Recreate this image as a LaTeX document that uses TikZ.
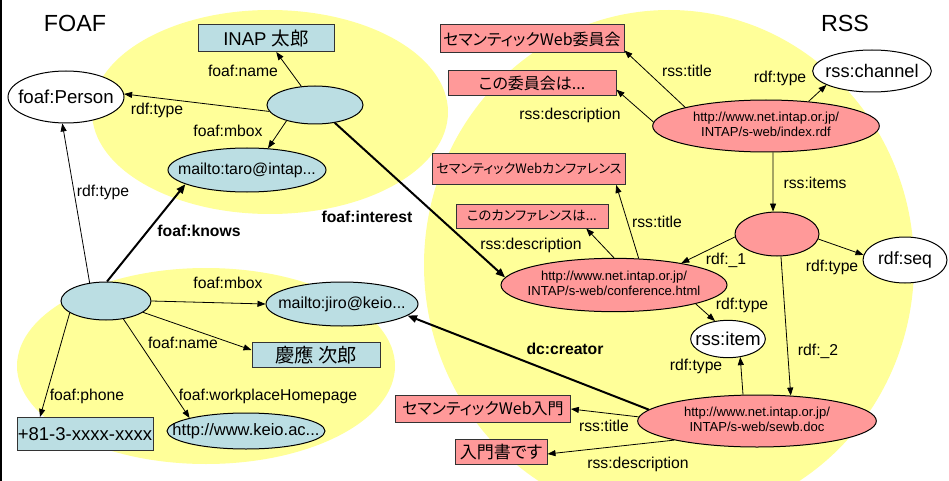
\documentclass[tikz,border=0pt]{standalone}
\usepackage{fontspec}
\setmainfont{Liberation Sans}
\newfontfamily\jp[RawFeature=+palt]{Noto Sans CJK JP}
\usetikzlibrary{shapes.geometric,arrows.meta}
\definecolor{ybg}{HTML}{FFFF99}
\definecolor{lblue}{HTML}{BBDEE3}
\definecolor{lpink}{HTML}{FF9999}
\definecolor{bdr}{HTML}{333333}
\newcommand\zw[1]{\makebox[0pt]{#1}}
\begin{document}
\begin{tikzpicture}[x=0.75pt,y=-0.75pt,
  ell/.style={ellipse, draw=black, line width=0.75pt, inner sep=0pt},
  bnode/.style={ell, fill=lblue},
  pnode/.style={ell, fill=lpink, font=\fontsize{9.8}{11.3}\selectfont},
  wnode/.style={ell, fill=white},
  bbox/.style={rectangle, draw=bdr, line width=0.75pt, fill=lblue, inner sep=0pt},
  pbox/.style={rectangle, draw=bdr, line width=0.75pt, fill=lpink, inner sep=0pt},
  lbl/.style={inner sep=0pt, font=\fontsize{11.8}{14}\selectfont},
  blbl/.style={inner sep=0pt, font=\fontsize{11.8}{14}\selectfont\bfseries},
  arr/.style={-{Triangle[length=6pt,width=4.5pt]}, line width=0.6pt},
  barr/.style={-{Triangle[length=7pt,width=5.5pt]}, line width=1.5pt},
  ttl/.style={font=\fontsize{17.5}{20}\selectfont, inner sep=0pt}]
\useasboundingbox (0,0) rectangle (949,481);
\fill[white] (0,0) rectangle (949,481);
% background groups
\fill[ybg] (270,112) ellipse [x radius=133.5pt, y radius=76.5pt];
\fill[ybg] (206,366) ellipse [x radius=141.75pt, y radius=73.5pt];
\fill[ybg] (669,265) ellipse [x radius=183.75pt, y radius=191.25pt];
\draw[line width=1.2pt] (0.8,0) -- (0.8,481);
% titles
\node[ttl] (tfoaf) at (75,23) {FOAF};
\node[ttl] (trss) at (845,23) {RSS};
% FOAF nodes
\node[bbox, minimum width=102pt, minimum height=20.25pt, font=\fontsize{13.9}{16}\selectfont] (inap) at (266,38) {INAP {\jp 太郎}};
\node[wnode, minimum width=87pt, minimum height=39pt, font=\fontsize{14}{16}\selectfont] (person) at (66,97) {\zw{foaf:Person}};
\node[bnode, minimum width=72pt, minimum height=28.5pt] (taro) at (315,105) {};
\node[bnode, minimum width=118.5pt, minimum height=33pt, font=\fontsize{11.9}{14}\selectfont] (mtaro) at (247,170) {\zw{mailto:taro@intap...}};
\node[bnode, minimum width=67.5pt, minimum height=28.5pt] (jiro) at (106,301) {};
\node[bnode, minimum width=114pt, minimum height=33pt, font=\fontsize{12}{14}\selectfont] (mjiro) at (342,304) {\zw{mailto:jiro@keio...}};
\node[bbox, minimum width=96pt, minimum height=18.75pt, font=\fontsize{14.5}{16}\selectfont] (keio) at (316,355) {{\jp 慶應 次郎}};
\node[bbox, minimum width=102pt, minimum height=24.75pt, font=\fontsize{13.9}{16}\selectfont] (phone) at (85,434) {+81-3-xxxx-xxxx};
\node[bnode, minimum width=118.5pt, minimum height=27pt, font=\fontsize{12.4}{14}\selectfont] (keioac) at (246,431) {\zw{http://www.keio.ac...}};
% RSS nodes
\node[pbox, minimum width=138pt, minimum height=21pt, font=\fontsize{12}{14}\selectfont] (iinkai) at (532,39) {\jp セマンティックWeb委員会};
\node[pbox, minimum width=126pt, minimum height=18.75pt, font=\fontsize{12}{14}\selectfont] (konoiin) at (532,83) {\jp この委員会は...};
\node[wnode, minimum width=89pt, minimum height=31.5pt, font=\fontsize{13.7}{16}\selectfont] (channel) at (872,71) {\zw{rss:channel}};
\node[pnode, minimum width=170pt, minimum height=39pt] (index) at (766,126) {\zw{\begin{tabular}{@{}c@{}}http://www.net.intap.or.jp/\\INTAP/s-web/index.rdf\end{tabular}}};
\node[pnode, minimum width=63pt, minimum height=33pt] (seq) at (777,234) {};
\node[wnode, minimum width=63pt, minimum height=34.5pt, font=\fontsize{13.2}{16}\selectfont] (rdfseq) at (905,260) {\zw{rdf:seq}};
\node[pbox, minimum width=145pt, minimum height=23.25pt, font=\fontsize{9.8}{12}\selectfont] (kanfa) at (529,169) {\jp セマンティックWebカンファレンス};
\node[pbox, minimum width=114pt, minimum height=18pt, font=\fontsize{10}{12}\selectfont] (konokanfa) at (532,216) {\jp このカンファレンスは...};
\node[pnode, minimum width=169.5pt, minimum height=40pt] (conf) at (614,285) {\zw{\begin{tabular}{@{}c@{}}http://www.net.intap.or.jp/\\INTAP/s-web/conference.html\end{tabular}}};
\node[wnode, minimum width=56pt, minimum height=28pt, font=\fontsize{14}{16}\selectfont] (item) at (728,339) {\zw{rss:item}};
\node[pnode, minimum width=179pt, minimum height=39pt] (sewb) at (757,421) {\zw{\begin{tabular}{@{}c@{}}http://www.net.intap.or.jp/\\INTAP/s-web/sewb.doc\end{tabular}}};
\node[pbox, minimum width=131pt, minimum height=20.25pt, font=\fontsize{12}{14}\selectfont] (nyumon) at (483,409) {\jp セマンティックWeb入門};
\node[pbox, minimum width=69pt, minimum height=18.75pt, font=\fontsize{12.8}{14}\selectfont] (nyu2) at (501,452) {\jp 入門書です};
% labels
\node[lbl] (l1) at (243,71) {foaf:name};
\node[lbl] (l2) at (157,110) {rdf:type};
\node[lbl] (l3) at (228,131) {foaf:mbox};
\node[lbl] (l4) at (103,192) {rdf:type};
\node[blbl] (l5) at (199,231) {foaf:knows};
\node[blbl] (l6) at (367,217) {foaf:interest};
\node[lbl] (l7) at (228,283) {foaf:mbox};
\node[lbl] (l8) at (183,343) {foaf:name};
\node[lbl] (l9) at (87,396) {foaf:phone};
\node[lbl] (l10) at (268,396) {foaf:workplaceHomepage};
\node[lbl] (r1) at (687,71) {rss:title};
\node[lbl] (r2) at (780,78) {rdf:type};
\node[lbl] (r3) at (570,115) {rss:description};
\node[lbl] (r4) at (815,183) {rss:items};
\node[lbl] (r5) at (657,222) {rss:title};
\node[lbl] (r6) at (531,245) {rss:description};
\node[lbl] (r7) at (726,260) {rdf:\_1};
\node[lbl] (r8) at (832,267) {rdf:type};
\node[lbl] (r9) at (742,305) {rdf:type};
\node[lbl] (r10) at (818,351) {rdf:\_2};
\node[blbl] (r11) at (565,349) {dc:creator};
\node[lbl] (r12) at (696,366) {rdf:type};
\node[lbl] (r13) at (604,426) {rss:title};
\node[lbl] (r14) at (638,464) {rss:description};
% FOAF edges
\draw[arr] (taro) -- (inap);
\draw[arr] (taro.188) -- (person.3);
\draw[arr] (taro.209) -- (mtaro.46);
\draw[barr] (taro.-42) -- (conf.176);
\draw[arr] (jiro.132) -- (person.262);
\draw[barr] (jiro.87) -- (mtaro.193);
\draw[arr] (jiro.east) -- (mjiro.west);
\draw[arr] (jiro.-17) -- ([yshift=3.75pt]keio.west);
\draw[arr] (jiro.198) -- ([xshift=-33.75pt]phone.north);
\draw[arr] (jiro.-46) -- (keioac.167);
% RSS edges
\draw[arr] (index.167) -- ([yshift=2.25pt]iinkai.south east);
\draw[arr] (index.178) -- ([yshift=-5pt]konoiin.east);
\draw[arr] (index.30) -- (channel.197);
\draw[arr] (index.-75) -- (seq.100);
\draw[arr] (seq.184) -- (conf.18);
\draw[arr] (seq.-7) -- (rdfseq.173);
\draw[arr] (seq.-80) -- (sewb.37);
\draw[arr] (conf.47) -- ([xshift=-7.5pt]kanfa.south east);
\draw[arr] (conf.90) -- ([xshift=-16.7pt]konokanfa.south east);
\draw[arr] (conf.-13) -- (item.126);
\draw[arr] (sewb.118) -- (item.-56);
\draw[barr] (sewb.174) -- (mjiro.-10);
\draw[arr] (sewb.178) -- (nyumon.east);
\draw[arr] (sewb.-167) -- ([yshift=-1.5pt]nyu2.east);
\end{tikzpicture}
\end{document}
